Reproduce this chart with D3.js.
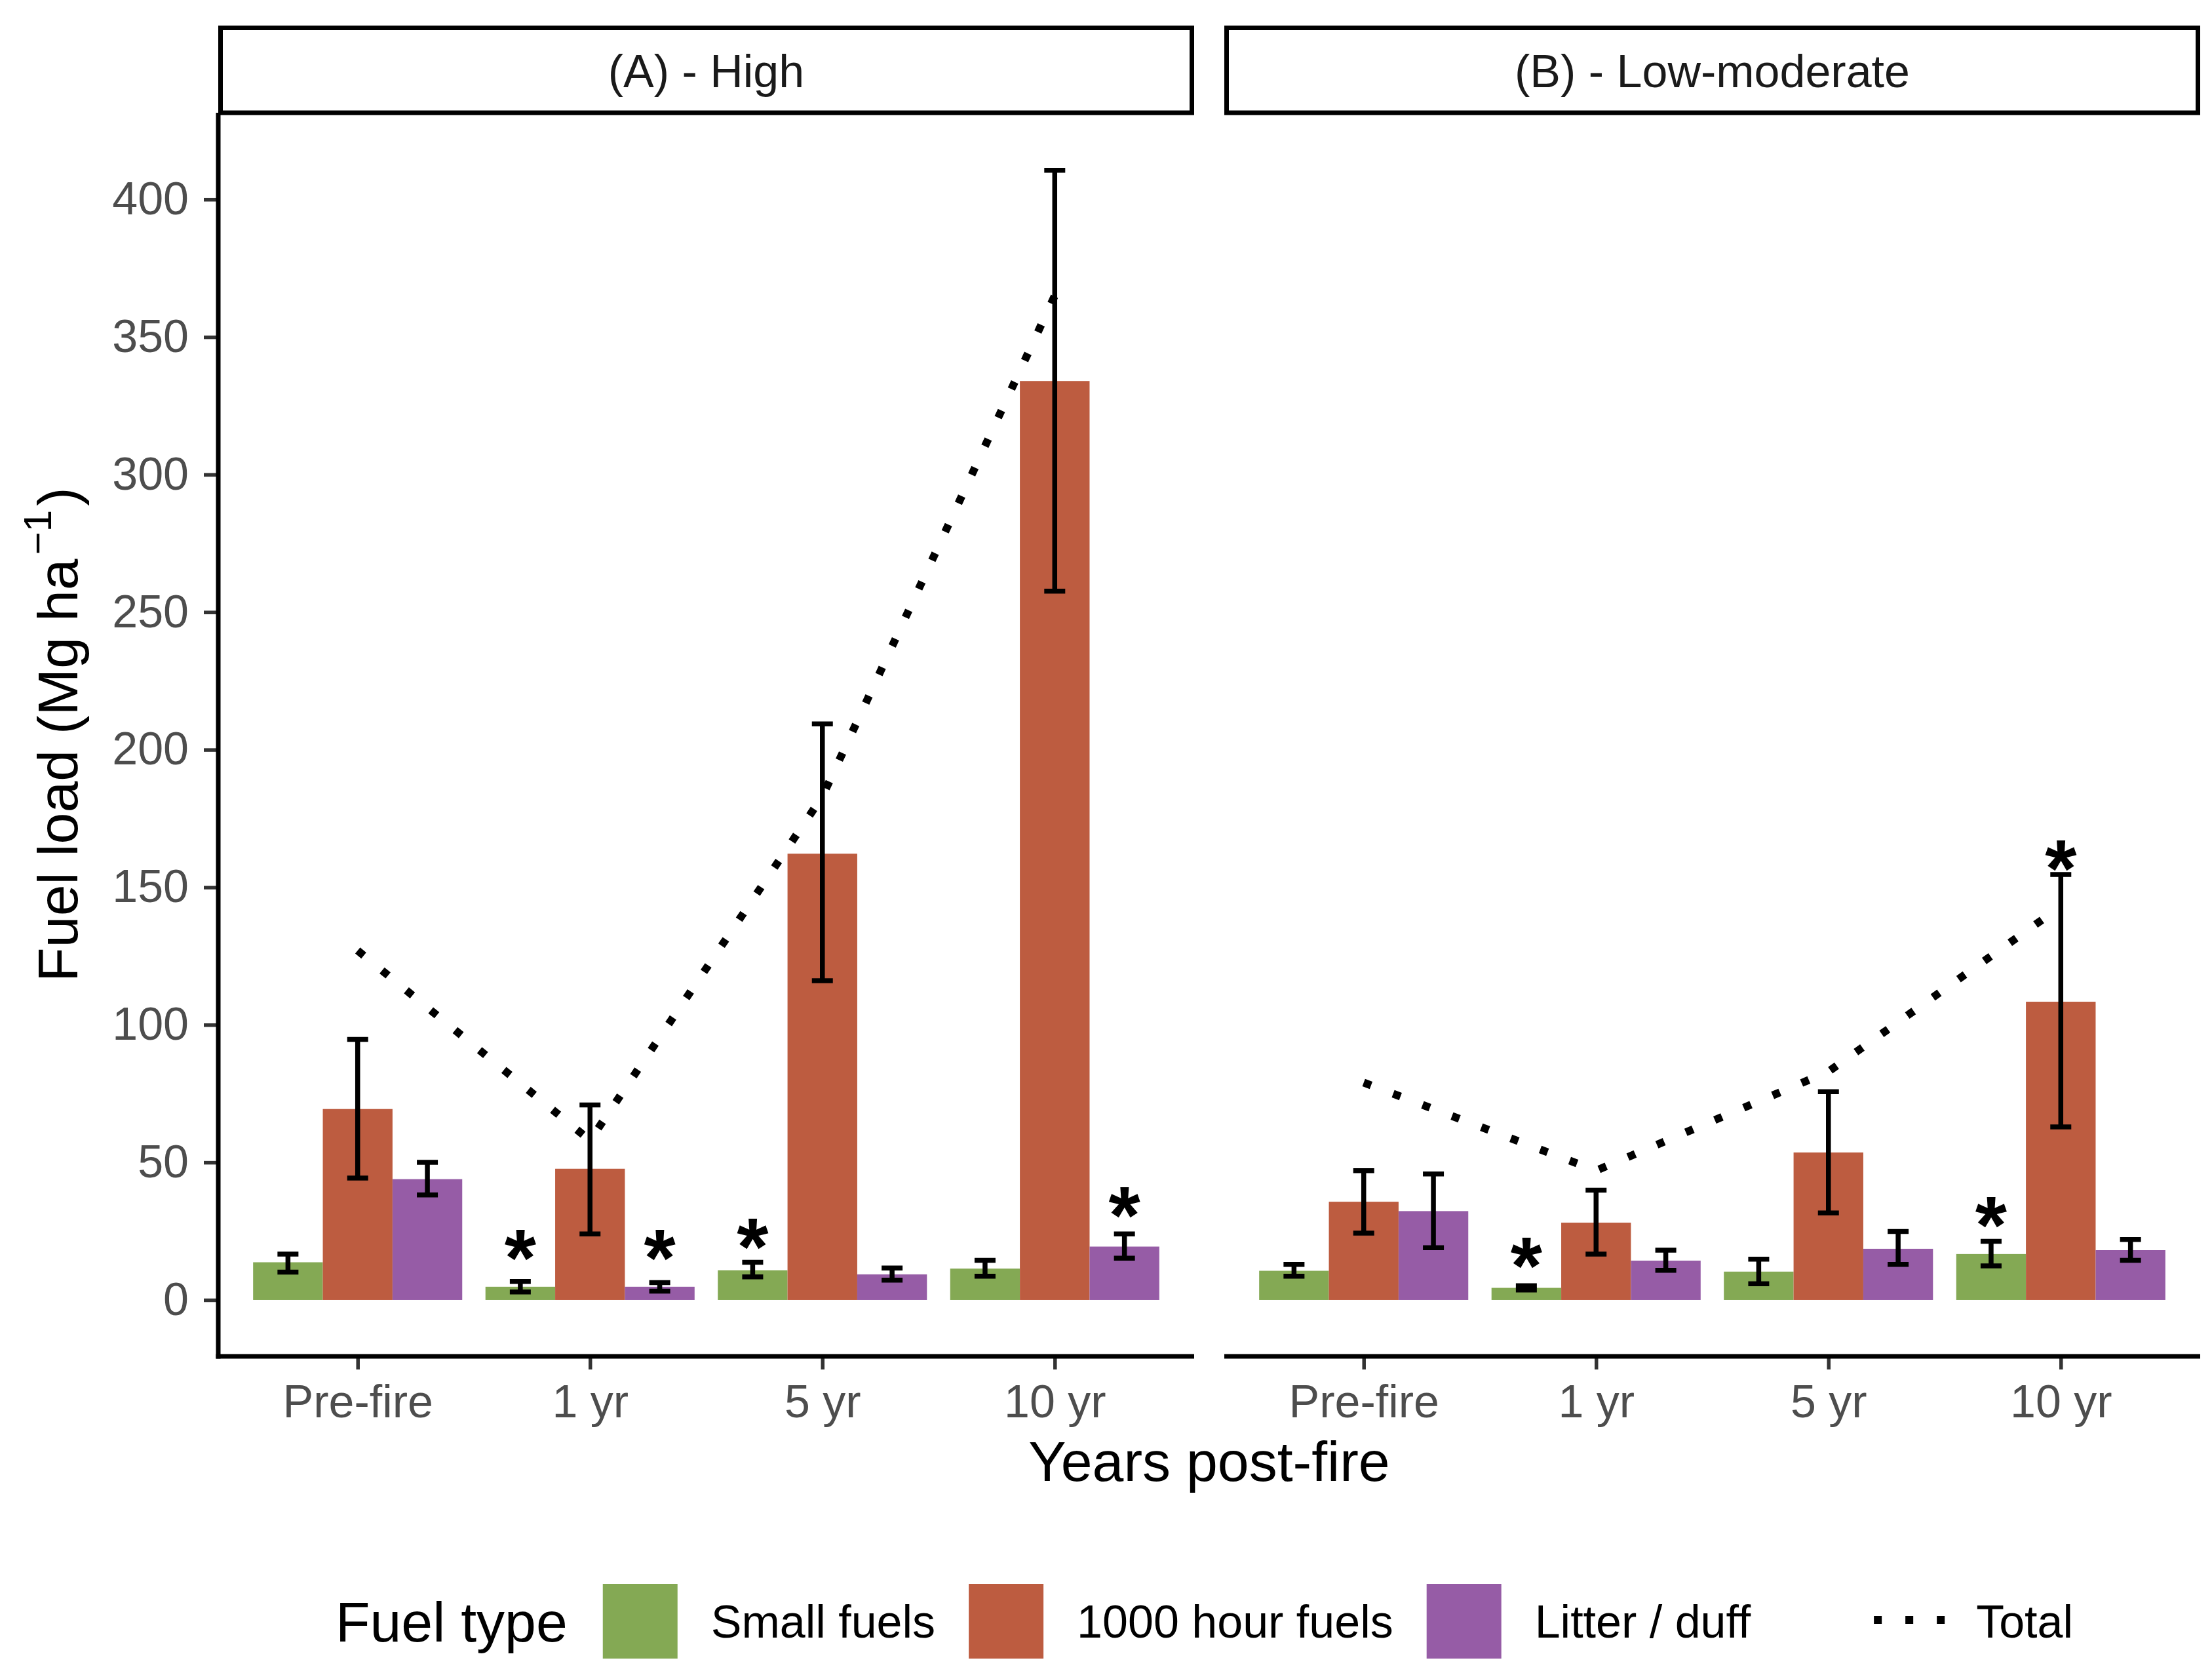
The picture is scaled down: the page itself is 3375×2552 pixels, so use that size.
<!DOCTYPE html>
<html>
    <head>
        <meta charset="UTF-8">
        <script src="https://d3js.org/d3.v7.min.js"></script>
        <style>
            body { margin: 0; background: #fff; }
            text { font-family: "Liberation Sans", Arial, sans-serif; }
        </style>
    </head>
    <body>
        <div id="chart"></div>
        <script type="text/javascript">
            // data
            var categories = ["Pre-fire", "1 yr", "5 yr", "10 yr"];
            var fuelTypes = ["Small fuels", "1000 hour fuels", "Litter / duff"];
            var panels = ["(A) - High", "(B) - Low-moderate"];
            var yTicks = [0, 50, 100, 150, 200, 250, 300, 350, 400];

            // (A) High severity
            var highSmall = [13.7, 4.8, 10.8, 11.4];
            var highSmallLo = [10.1, 2.9, 8.4, 8.6];
            var highSmallHi = [16.7, 6.7, 13.7, 14.4];
            var high1000 = [69.4, 47.7, 162.2, 334.0];
            var high1000Lo = [44.3, 24.0, 116.0, 257.6];
            var high1000Hi = [94.7, 70.9, 209.4, 410.6];
            var highLitter = [43.9, 4.8, 9.3, 19.4];
            var highLitterLo = [38.2, 3.2, 7.2, 15.2];
            var highLitterHi = [50.0, 6.3, 11.6, 24.0];
            var highTotal = [127, 58, 183, 365];

            // (B) Low-moderate severity
            var lowSmall = [10.6, 4.4, 10.3, 16.7];
            var lowSmallLo = [8.6, 3.6, 5.9, 12.4];
            var lowSmallHi = [12.9, 5.2, 14.8, 21.3];
            var low1000 = [35.7, 28.1, 53.6, 108.4];
            var low1000Lo = [24.3, 16.7, 31.6, 62.9];
            var low1000Hi = [47.0, 39.9, 75.7, 154.6];
            var lowLitter = [32.3, 14.3, 18.6, 18.1];
            var lowLitterLo = [19.0, 10.8, 12.9, 14.4];
            var lowLitterHi = [45.8, 18.1, 24.9, 22.0];
            var lowTotal = [79, 47, 83, 143];

            // significance stars: panel, category, fuel, height
            var starPanel = [0, 0, 0, 0, 1, 1, 1];
            var starCat = ["1 yr", "1 yr", "5 yr", "10 yr", "1 yr", "10 yr", "10 yr"];
            var starFuel = ["Small fuels", "Litter / duff", "Small fuels", "Litter / duff", "Small fuels", "Small fuels", "1000 hour fuels"];
            var starY = [21.5, 21.5, 25.7, 37, 18.6, 33.5, 163];

            var means = [[highSmall, high1000, highLitter], [lowSmall, low1000, lowLitter]];
            var lows = [[highSmallLo, high1000Lo, highLitterLo], [lowSmallLo, low1000Lo, lowLitterLo]];
            var highs = [[highSmallHi, high1000Hi, highLitterHi], [lowSmallHi, low1000Hi, lowLitterHi]];
            var totals = [highTotal, lowTotal];

            var width = 3375;
            var height = 2552;
            var stripTop = 39;
            var panelTop = 172;
            var panelBottom = 2069;
            var panelWidth = 1489;
            var panelLefts = [333, 1868];
            var lw = 7;

            var color = d3.scaleOrdinal()
                .domain(fuelTypes)
                .range(["#84A954", "#BD5C40", "#965CA6"]);

            var svg = d3.select("#chart")
                .append("svg")
                .attr("width", width)
                .attr("height", height);

            var yscale = d3.scaleLinear()
                .domain([-20.5, 431.5])
                .range([panelBottom, panelTop]);

            panels.forEach(function(pname, p) {
                var left = panelLefts[p];
                var xscale = d3.scalePoint()
                    .domain(categories)
                    .range([left, left + panelWidth])
                    .padding(0.6);
                var step = xscale.step();
                var fscale = d3.scaleBand()
                    .domain(fuelTypes)
                    .range([-0.45 * step, 0.45 * step]);

                var g = svg.append("g").attr("class", "panel");

                // strip
                g.append("rect")
                    .attr("x", left + lw / 2)
                    .attr("y", stripTop + lw / 2)
                    .attr("width", panelWidth - lw)
                    .attr("height", panelTop - stripTop - lw / 2)
                    .attr("fill", "#fff")
                    .attr("stroke", "#000")
                    .attr("stroke-width", lw);
                g.append("text")
                    .attr("x", left + panelWidth / 2)
                    .attr("y", 133)
                    .attr("text-anchor", "middle")
                    .attr("font-size", 70)
                    .attr("fill", "#1A1A1A")
                    .text(pname);

                // bars
                var barData = [];
                fuelTypes.forEach(function(f, j) {
                    categories.forEach(function(c, i) {
                        barData.push({ cat: c, fuel: f, value: means[p][j][i], lo: lows[p][j][i], hi: highs[p][j][i] });
                    });
                });

                g.selectAll("rect.bar")
                    .data(barData)
                    .enter()
                    .append("rect")
                    .attr("class", "bar")
                    .attr("x", d => xscale(d.cat) + fscale(d.fuel))
                    .attr("y", d => yscale(d.value))
                    .attr("width", fscale.bandwidth())
                    .attr("height", d => yscale(0) - yscale(d.value))
                    .attr("fill", d => color(d.fuel));

                // error bars
                var capHalf = 16;
                var eb = g.selectAll("g.err")
                    .data(barData)
                    .enter()
                    .append("g")
                    .attr("class", "err")
                    .attr("stroke", "#000")
                    .attr("stroke-width", 7.5);
                eb.append("line")
                    .attr("x1", d => xscale(d.cat) + fscale(d.fuel) + fscale.bandwidth() / 2)
                    .attr("x2", d => xscale(d.cat) + fscale(d.fuel) + fscale.bandwidth() / 2)
                    .attr("y1", d => yscale(d.lo))
                    .attr("y2", d => yscale(d.hi));
                eb.append("line")
                    .attr("x1", d => xscale(d.cat) + fscale(d.fuel) + fscale.bandwidth() / 2 - capHalf)
                    .attr("x2", d => xscale(d.cat) + fscale(d.fuel) + fscale.bandwidth() / 2 + capHalf)
                    .attr("y1", d => yscale(d.lo))
                    .attr("y2", d => yscale(d.lo));
                eb.append("line")
                    .attr("x1", d => xscale(d.cat) + fscale(d.fuel) + fscale.bandwidth() / 2 - capHalf)
                    .attr("x2", d => xscale(d.cat) + fscale(d.fuel) + fscale.bandwidth() / 2 + capHalf)
                    .attr("y1", d => yscale(d.hi))
                    .attr("y2", d => yscale(d.hi));

                // total line
                var lineGenerator = d3.line()
                    .x((d, i) => xscale(categories[i]))
                    .y(d => yscale(d));
                g.append("path")
                    .datum(totals[p])
                    .attr("d", lineGenerator)
                    .attr("fill", "none")
                    .attr("stroke", "#000")
                    .attr("stroke-width", 12)
                    .attr("stroke-dasharray", "12 36");

                // stars
                var stars = starY.map(function(v, k) {
                    return { panel: starPanel[k], cat: starCat[k], fuel: starFuel[k], y: v };
                }).filter(d => d.panel === p);
                g.selectAll("text.star")
                    .data(stars)
                    .enter()
                    .append("text")
                    .attr("class", "star")
                    .attr("x", d => xscale(d.cat) + fscale(d.fuel) + fscale.bandwidth() / 2)
                    .attr("y", d => yscale(d.y))
                    .attr("dy", "0.56em")
                    .attr("text-anchor", "middle")
                    .attr("font-size", 124)
                    .attr("font-weight", "bold")
                    .attr("fill", "#000")
                    .text("*");

                // x axis
                var xaxis = d3.axisBottom(xscale).tickSize(20).tickPadding(23).tickSizeOuter(0);
                var xg = g.append("g")
                    .attr("transform", "translate(0," + panelBottom + ")")
                    .call(xaxis);
                xg.select(".domain").remove();
                xg.selectAll(".tick line").attr("stroke", "#333").attr("stroke-width", 5.5);
                xg.selectAll(".tick text")
                    .attr("font-size", 70)
                    .attr("font-family", "Liberation Sans, Arial, sans-serif")
                    .attr("fill", "#4D4D4D");
                g.append("line")
                    .attr("x1", p === 0 ? left - lw / 2 : left)
                    .attr("x2", left + panelWidth)
                    .attr("y1", panelBottom)
                    .attr("y2", panelBottom)
                    .attr("stroke", "#000")
                    .attr("stroke-width", lw);

                // y axis only on the first panel
                if (p === 0) {
                    var yaxis = d3.axisLeft(yscale).tickValues(yTicks).tickSize(22).tickPadding(23).tickSizeOuter(0);
                    var yg = g.append("g")
                        .attr("transform", "translate(" + left + ",0)")
                        .call(yaxis);
                    yg.select(".domain").remove();
                    yg.selectAll(".tick line").attr("stroke", "#333").attr("stroke-width", 5.5);
                    yg.selectAll(".tick text")
                        .attr("font-size", 70)
                        .attr("font-family", "Liberation Sans, Arial, sans-serif")
                        .attr("fill", "#4D4D4D");
                    g.append("line")
                        .attr("x1", left)
                        .attr("x2", left)
                        .attr("y1", panelTop)
                        .attr("y2", panelBottom + lw / 2)
                        .attr("stroke", "#000")
                        .attr("stroke-width", lw);
                }
            });

            // axis titles
            var ytitle = svg.append("text")
                .attr("transform", "translate(118," + ((panelTop + panelBottom) / 2) + ") rotate(-90)")
                .attr("text-anchor", "middle")
                .attr("font-size", 86)
                .attr("fill", "#000");
            ytitle.append("tspan").text("Fuel load (Mg ha");
            ytitle.append("tspan").attr("dy", -40).attr("dx", 6).attr("font-size", 60).text("\u22121");
            ytitle.append("tspan").attr("dy", 40).attr("dx", 6).text(")");

            svg.append("text")
                .attr("x", (panelLefts[0] + panelLefts[1] + panelWidth) / 2)
                .attr("y", 2259)
                .attr("text-anchor", "middle")
                .attr("font-size", 86)
                .attr("fill", "#000")
                .text("Years post-fire");

            // legend
            var legY = 2473;
            var keySize = 114;
            var leg = svg.append("g").attr("class", "legend");
            var title = leg.append("text")
                .attr("x", 512)
                .attr("y", legY + 31)
                .attr("font-size", 86)
                .attr("fill", "#000")
                .text("Fuel type");
            var cursor = 512 + title.node().getComputedTextLength() + 54;
            fuelTypes.forEach(function(f) {
                leg.append("rect")
                    .attr("x", cursor)
                    .attr("y", legY - keySize / 2)
                    .attr("width", keySize)
                    .attr("height", keySize)
                    .attr("fill", color(f));
                var t = leg.append("text")
                    .attr("x", cursor + keySize + 51)
                    .attr("y", legY + 25)
                    .attr("font-size", 70)
                    .attr("fill", "#000")
                    .text(f);
                cursor = cursor + keySize + 51 + t.node().getComputedTextLength() + 51;
            });
            cursor = cursor + 132;
            leg.append("line")
                .attr("x1", cursor)
                .attr("x2", cursor + 114)
                .attr("y1", legY - 2)
                .attr("y2", legY - 2)
                .attr("stroke", "#000")
                .attr("stroke-width", 12)
                .attr("stroke-dasharray", "12 36")
                .attr("stroke-dashoffset", -5);
            leg.append("text")
                .attr("x", cursor + 114 + 47)
                .attr("y", legY + 25)
                .attr("font-size", 70)
                .attr("fill", "#000")
                .text("Total");
        </script>
    </body>
</html>
